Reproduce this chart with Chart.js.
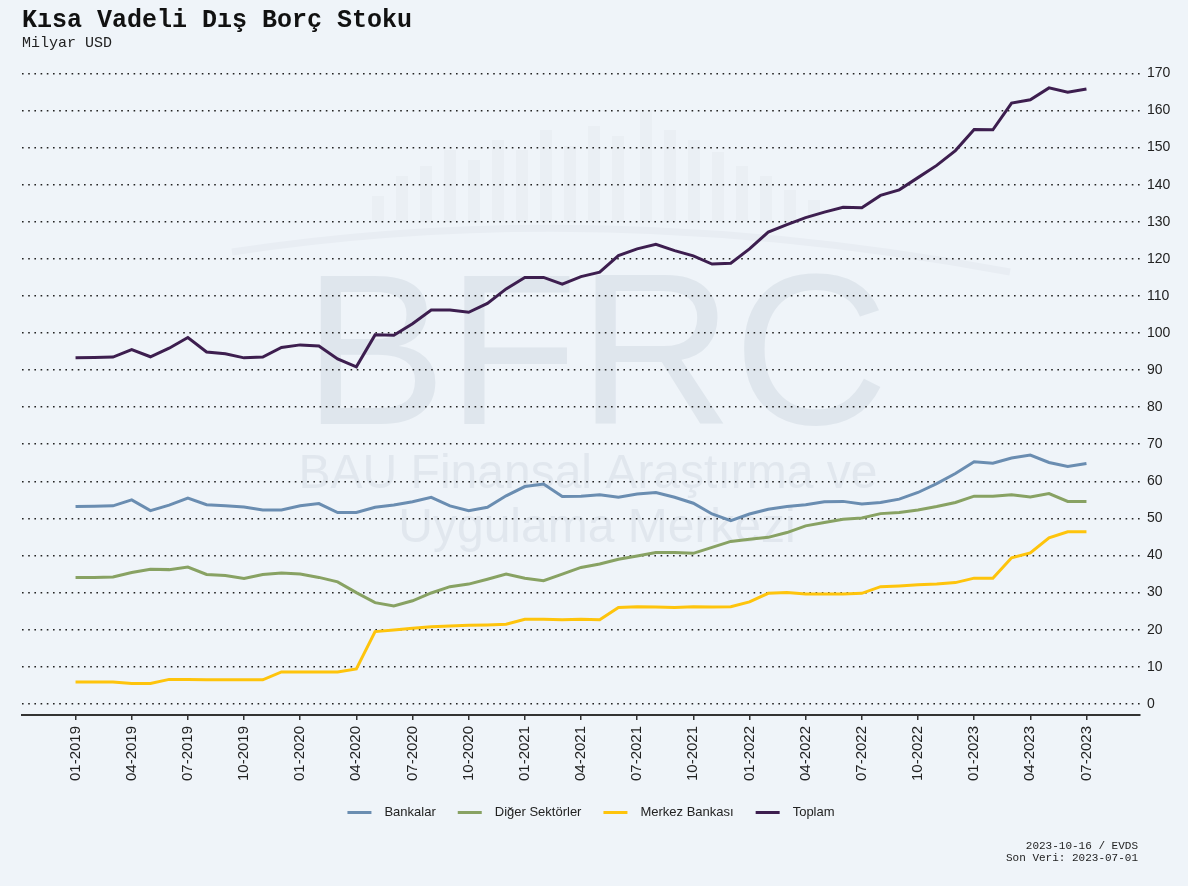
<!DOCTYPE html>
<html>
<head>
<meta charset="utf-8">
<script src="https://cdn.jsdelivr.net/npm/chart.js@4.4.0/dist/chart.umd.min.js"></script>
<style>
  html, body { margin: 0; padding: 0; background: #eff4f9; }
  #wrap { width: 1188px; height: 886px; position: relative; }
</style>
</head>
<body>
<div id="wrap"><canvas id="chart"></canvas></div>
<script>
// monthly, 01-2019 .. 07-2023
const months = [
  "01-2019","02-2019","03-2019","04-2019","05-2019","06-2019","07-2019","08-2019","09-2019","10-2019","11-2019","12-2019",
  "01-2020","02-2020","03-2020","04-2020","05-2020","06-2020","07-2020","08-2020","09-2020","10-2020","11-2020","12-2020",
  "01-2021","02-2021","03-2021","04-2021","05-2021","06-2021","07-2021","08-2021","09-2021","10-2021","11-2021","12-2021",
  "01-2022","02-2022","03-2022","04-2022","05-2022","06-2022","07-2022","08-2022","09-2022","10-2022","11-2022","12-2022",
  "01-2023","02-2023","03-2023","04-2023","05-2023","06-2023","07-2023"
];

const bankalar = [
  53.2, 53.3, 53.4, 55.0, 52.1, 53.6, 55.5, 53.7, 53.4, 53.1, 52.3, 52.3,
  53.4, 54.0, 51.6, 51.6, 53.0, 53.6, 54.5, 55.7, 53.4, 52.1, 53.0, 56.1,
  58.6, 59.3, 55.9, 56.0, 56.4, 55.7, 56.6, 57.0, 55.7, 54.1, 51.2, 49.4,
  51.2, 52.5, 53.2, 53.7, 54.5, 54.6, 53.9, 54.3, 55.2, 57.0, 59.4, 62.1,
  65.3, 64.9, 66.3, 67.1, 65.1, 64.0, 64.8
];
const digerSektorler = [
  34.1, 34.1, 34.2, 35.4, 36.3, 36.2, 36.9, 34.9, 34.6, 33.8, 34.9, 35.3,
  35.0, 34.1, 32.9, 30.0, 27.3, 26.4, 27.8, 29.9, 31.6, 32.3, 33.6, 35.0,
  33.9, 33.2, 35.0, 36.8, 37.7, 39.0, 39.9, 40.8, 40.8, 40.6, 42.2, 43.8,
  44.4, 44.9, 46.2, 48.0, 48.9, 49.8, 50.1, 51.3, 51.6, 52.3, 53.2, 54.3,
  56.0, 56.0, 56.4, 55.8, 56.7, 54.6, 54.6
];
const merkezBankasi = [
  5.9, 5.9, 5.9, 5.5, 5.5, 6.6, 6.6, 6.5, 6.5, 6.5, 6.5, 8.6,
  8.6, 8.6, 8.6, 9.4, 19.5, 19.9, 20.4, 20.8, 21.0, 21.2, 21.3, 21.5,
  22.8, 22.8, 22.7, 22.8, 22.7, 26.0, 26.2, 26.1, 26.0, 26.2, 26.1, 26.2,
  27.5, 29.8, 30.0, 29.6, 29.6, 29.6, 29.8, 31.6, 31.8, 32.1, 32.3, 32.7,
  33.9, 33.9, 39.4, 40.7, 44.8, 46.4, 46.4
];
const toplam = [
  93.3, 93.4, 93.5, 95.5, 93.6, 95.9, 98.8, 94.9, 94.4, 93.3, 93.5, 96.1,
  96.8, 96.5, 93.0, 90.9, 99.5, 99.4, 102.5, 106.2, 106.2, 105.6, 108.0, 111.9,
  115.0, 115.0, 113.2, 115.2, 116.4, 120.9, 122.7, 123.9, 122.2, 120.8, 118.6, 118.8,
  122.7, 127.2, 129.2, 131.1, 132.6, 133.9, 133.8, 137.1, 138.6, 141.9, 145.2, 149.2,
  154.9, 154.8, 162.0, 162.9, 166.1, 164.9, 165.8
];

const xTickIdx = [0, 3, 6, 9, 12, 15, 18, 21, 24, 27, 30, 33, 36, 39, 42, 45, 48, 51, 54];
const yTicks = [0, 10, 20, 30, 40, 50, 60, 70, 80, 90, 100, 110, 120, 130, 140, 150, 160, 170];

const seriesNames = ["Bankalar", "Diğer Sektörler", "Merkez Bankası", "Toplam"];
const seriesColors = ["#6a8db1", "#88a263", "#fec40c", "#3d1e4f"];
const seriesData = [bankalar, digerSektorler, merkezBankasi, toplam];

const BG = "#eff4f9";

// faint skyline of the logo watermark: [left, top]
const skyline = [
  [372, 196], [396, 176], [420, 166], [444, 150], [468, 160], [492, 140], [516, 150],
  [540, 130], [564, 146], [588, 126], [612, 136], [640, 110], [664, 130], [688, 140],
  [712, 152], [736, 166], [760, 176], [784, 190], [808, 200]
];

// background, watermark, title and footer
const decor = {
  id: "decor",
  afterLayout(chart) {
    // legend sits a bit left of the canvas centre in the original
    const lg = chart.legend;
    if (lg) { lg.left -= 14; lg.right -= 14; }
  },
  beforeDraw(chart) {
    const ctx = chart.ctx;
    ctx.save();
    ctx.fillStyle = BG;
    ctx.fillRect(0, 0, chart.width, chart.height);

    ctx.fillStyle = "#eaeff4";
    skyline.forEach(([x, top]) => ctx.fillRect(x, top, 12, 222 - top));
    ctx.strokeStyle = "#e8edf3";
    ctx.lineWidth = 7;
    ctx.beginPath();
    ctx.moveTo(232, 252);
    ctx.quadraticCurveTo(600, 196, 1010, 272);
    ctx.stroke();

    ctx.fillStyle = "#dfe6ed";
    ctx.textAlign = "center";
    ctx.textBaseline = "alphabetic";
    ctx.font = "215px 'Liberation Sans', Arial, sans-serif";
    ctx.fillText("BFRC", 596, 424);
    ctx.fillStyle = "#e1e7ee";
    ctx.font = "48px 'Liberation Sans', Arial, sans-serif";
    ctx.fillText("BAU Finansal Araştırma ve", 588, 488);
    ctx.fillText("Uygulama Merkezi", 597, 542);
    ctx.restore();
  },
  afterDraw(chart) {
    const ctx = chart.ctx;
    ctx.save();
    ctx.fillStyle = "#111";
    ctx.textAlign = "left";
    ctx.textBaseline = "alphabetic";
    ctx.font = "bold 25px 'Liberation Mono', 'Courier New', monospace";
    ctx.fillText("Kısa Vadeli Dış Borç Stoku", 22, 27);
    ctx.font = "15px 'Liberation Mono', 'Courier New', monospace";
    ctx.fillStyle = "#222";
    ctx.fillText("Milyar USD", 22, 47);

    ctx.textAlign = "right";
    ctx.font = "11px 'Liberation Mono', 'Courier New', monospace";
    ctx.fillText("2023-10-16 / EVDS", 1138, 849);
    ctx.fillText("Son Veri: 2023-07-01", 1138, 861);
    ctx.restore();
  }
};

new Chart(document.getElementById("chart"), {
  type: "line",
  data: {
    datasets: seriesNames.map((name, k) => ({
      label: name,
      data: seriesData[k].map((v, i) => ({ x: i, y: v })),
      borderColor: seriesColors[k],
      backgroundColor: seriesColors[k],
      borderWidth: 3,
      pointRadius: 0,
      pointHoverRadius: 0,
      tension: 0,
      fill: false
    }))
  },
  options: {
    responsive: true,
    maintainAspectRatio: false,
    animation: false,
    layout: { padding: { left: 22, right: 0, top: 66, bottom: 57 } },
    plugins: {
      legend: {
        position: "bottom",
        labels: {
          usePointStyle: true,
          pointStyle: "line",
          pointStyleWidth: 24,
          padding: 22,
          color: "#222",
          font: { family: "'Liberation Sans', Arial, sans-serif", size: 13 },
          // a little more room between the line symbol and the text
          generateLabels: chart =>
            Chart.defaults.plugins.legend.labels.generateLabels(chart)
              .map(l => ({ ...l, text: "\u2002" + l.text }))
        }
      },
      tooltip: { enabled: false }
    },
    scales: {
      x: {
        type: "linear",
        min: -2.86,
        max: 56.86,
        afterBuildTicks: s => { s.ticks = xTickIdx.map(v => ({ value: v })); },
        afterFit: s => { s.height = 69; },
        ticks: {
          autoSkip: false,
          maxRotation: 90,
          minRotation: 90,
          padding: 6,
          color: "#222",
          font: { family: "'Liberation Sans', Arial, sans-serif", size: 15 },
          callback: v => months[v]
        },
        grid: { drawOnChartArea: false, drawTicks: true, tickLength: 5, color: "#333", lineWidth: 1.5 },
        border: { display: true, color: "#333", width: 2 }
      },
      y: {
        position: "right",
        min: -3,
        max: 172,
        afterBuildTicks: s => { s.ticks = yTicks.map(v => ({ value: v })); },
        afterFit: s => { s.width = 48; },
        ticks: {
          padding: 7,
          color: "#222",
          font: { family: "'Liberation Sans', Arial, sans-serif", size: 14 }
        },
        grid: { drawTicks: false, color: "#222", lineWidth: 1.6 },
        border: { display: false, dash: [1.6, 4.6] }
      }
    }
  },
  plugins: [decor]
});
</script>
</body>
</html>
